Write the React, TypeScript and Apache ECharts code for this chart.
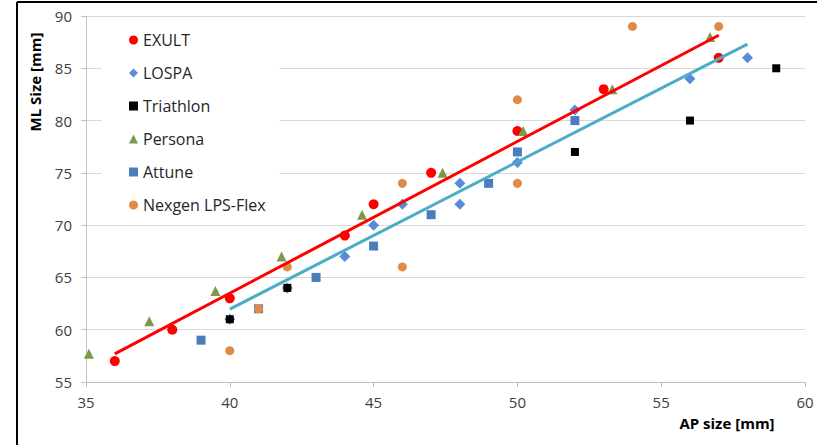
import React, { useEffect, useRef } from "react";
import * as echarts from "echarts";

const seriesNames = ["EXULT", "LOSPA", "Triathlon", "Persona", "Attune", "Nexgen LPS-Flex"];

const exultAP = [36, 38, 40, 44, 45, 47, 50, 53, 57];
const exultML = [57, 60, 63, 69, 72, 75, 79, 83, 86];

const lospaAP = [40, 42, 44, 45, 46, 48, 48, 50, 52, 56, 58];
const lospaML = [61, 64, 67, 70, 72, 72, 74, 76, 81, 84, 86];

const triathlonAP = [40, 42, 52, 56, 59];
const triathlonML = [61, 64, 77, 80, 85];

const personaAP = [35.1, 37.2, 39.5, 41.8, 44.6, 47.4, 50.2, 53.3, 56.7];
const personaML = [57.7, 60.8, 63.7, 67, 71, 75, 79, 83, 88];

const attuneAP = [39, 41, 43, 45, 47, 49, 50, 52];
const attuneML = [59, 62, 65, 68, 71, 74, 77, 80];

const nexgenAP = [40, 41, 42, 46, 46, 50, 50, 54, 57];
const nexgenML = [58, 62, 66, 66, 74, 82, 74, 89, 89];

const xTicks = [35, 40, 45, 50, 55, 60];
const yTicks = [55, 60, 65, 70, 75, 80, 85, 90];

const zip = (a: number[], b: number[]) => a.map((v, i) => [v, b[i]]);

function trend(xs: number[], ys: number[]) {
  const n = xs.length;
  const mx = xs.reduce((s, v) => s + v, 0) / n;
  const my = ys.reduce((s, v) => s + v, 0) / n;
  let sxy = 0, sxx = 0;
  for (let i = 0; i < n; i++) {
    sxy += (xs[i] - mx) * (ys[i] - my);
    sxx += (xs[i] - mx) * (xs[i] - mx);
  }
  const k = sxy / sxx;
  const b = my - k * mx;
  const x0 = Math.min(...xs);
  const x1 = Math.max(...xs);
  return [[x0, k * x0 + b], [x1, k * x1 + b]];
}

const FONT = "'Open Sans', sans-serif";

export default function App() {
  const ref = useRef<HTMLDivElement>(null);
  useEffect(() => {
    if (!ref.current) return;
    const chart = echarts.init(ref.current, undefined, { renderer: "svg" });
    const scatter = (name: string, xs: number[], ys: number[], symbol: string, size: number, color: string, z: number) => ({
      name,
      type: "scatter",
      data: zip(xs, ys),
      symbol,
      symbolSize: size,
      itemStyle: { color, opacity: 1 },
      z,
    });
    chart.setOption({
      animation: false,
      backgroundColor: "#fff",
      grid: { left: 86, right: 12, top: 16, bottom: 63 },
      xAxis: {
        type: "value",
        min: xTicks[0],
        max: xTicks[xTicks.length - 1],
        interval: 5,
        axisLine: { show: true, lineStyle: { color: "#BFBFBF", width: 1 } },
        axisTick: { show: true, length: 5, lineStyle: { color: "#BFBFBF" } },
        splitLine: { show: false },
        axisLabel: { color: "#404040", fontSize: 15, fontFamily: FONT, margin: 12 },
      },
      yAxis: {
        type: "value",
        min: yTicks[0],
        max: yTicks[yTicks.length - 1],
        interval: 5,
        axisLine: { show: true, lineStyle: { color: "#BFBFBF", width: 1 } },
        axisTick: { show: true, length: 5, lineStyle: { color: "#BFBFBF" } },
        splitLine: { show: true, lineStyle: { color: "#D9D9D9", width: 1 } },
        axisLabel: { color: "#404040", fontSize: 15, fontFamily: FONT, margin: 14 },
      },
      legend: {
        data: seriesNames,
        orient: "vertical",
        left: 102,
        top: 20,
        padding: [12, 14, 12, 27],
        backgroundColor: "#fff",
        itemGap: 17,
        itemWidth: 9,
        itemHeight: 9,
        textStyle: { color: "#262626", fontSize: 16, lineHeight: 16, fontFamily: FONT },
      },
      series: [
        scatter("EXULT", exultAP, exultML, "circle", 10, "#FF0000", 2),
        scatter("LOSPA", lospaAP, lospaML, "diamond", 11, "#5A8BD6", 3),
        scatter("Triathlon", triathlonAP, triathlonML, "rect", 8, "#000000", 4),
        scatter("Persona", personaAP, personaML, "triangle", 10, "#7A9A48", 5),
        scatter("Attune", attuneAP, attuneML, "rect", 9, "#4A7EBB", 6),
        scatter("Nexgen LPS-Flex", nexgenAP, nexgenML, "circle", 9, "#E08A45", 7),
        {
          name: "EXULT trend",
          type: "line",
          data: trend(exultAP, exultML),
          symbol: "none",
          lineStyle: { color: "#FF0000", width: 3 },
          z: 8,
        },
        {
          name: "LOSPA trend",
          type: "line",
          data: trend(lospaAP, lospaML),
          symbol: "none",
          lineStyle: { color: "#4BACC6", width: 3 },
          z: 8,
        },
      ],
      graphic: [
        {
          type: "text",
          x: 35,
          y: 82,
          rotation: Math.PI / 2,
          style: {
            text: "ML Size [mm]",
            fill: "#000",
            font: "bold 15px 'Open Sans', sans-serif",
            textAlign: "center",
            textVerticalAlign: "middle",
          },
        },
        {
          type: "text",
          x: 727,
          y: 423,
          style: {
            text: "AP size [mm]",
            fill: "#000",
            font: "bold 15px 'Open Sans', sans-serif",
            textAlign: "center",
            textVerticalAlign: "middle",
          },
        },
        {
          type: "line",
          shape: { x1: 17, y1: 2, x2: 817, y2: 2 },
          style: { stroke: "#000", lineWidth: 2 },
        },
        {
          type: "line",
          shape: { x1: 17, y1: 2, x2: 17, y2: 445 },
          style: { stroke: "#000", lineWidth: 2 },
        },
      ],
    });
    return () => chart.dispose();
  }, []);
  return <div ref={ref} style={{ width: 817, height: 445, position: "absolute", left: 0, top: 0 }} />;
}
